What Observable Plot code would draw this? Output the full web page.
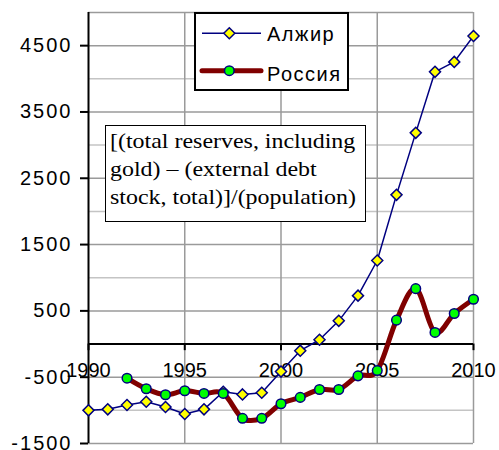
<!DOCTYPE html>
<html><head><meta charset="utf-8">
<script src="https://cdn.jsdelivr.net/npm/d3@7"></script>
<script src="https://cdn.jsdelivr.net/npm/@observablehq/plot@0.6"></script>
<style>
body{margin:0;background:#fff;}
#wrap{position:relative;width:499px;height:450px;overflow:hidden;}
#wrap svg.chart{position:absolute;left:0;top:0;}
[aria-label="y-axis tick label"] text{letter-spacing:2px;}
[aria-label="x-labels"] text{letter-spacing:2px;}
#legend{position:absolute;left:194px;top:12px;width:155px;height:79px;box-sizing:border-box;border:2px solid #000;background:#fff;font-family:"Liberation Sans",Arial,sans-serif;font-size:20px;}
#legend span{position:absolute;left:71px;line-height:24px;letter-spacing:1.5px;white-space:nowrap;}
#note{position:absolute;left:105px;top:125px;width:261px;height:97px;box-sizing:border-box;border:1.5px solid #000;background:#fff;}
#noteText{position:absolute;left:110px;top:127px;font-family:"Liberation Serif","Times New Roman",serif;font-size:21px;line-height:28px;transform:scaleX(1.14);transform-origin:0 0;white-space:nowrap;color:#000;}
</style></head><body>
<div id="wrap"></div>
<script>
const years = [1990,1991,1992,1993,1994,1995,1996,1997,1998,1999,2000,2001,2002,2003,2004,2005,2006,2007,2008,2009,2010];
const algeriaValues = [-1000,-985,-920,-870,-950,-1055,-985,-720,-760,-735,-415,-100,65,350,730,1260,2250,3185,4105,4255,4645];
const russiaYears = [1992,1993,1994,1995,1996,1997,1998,1999,2000,2001,2002,2003,2004,2005,2006,2007,2008,2009,2010];
const russiaValues = [-515,-675,-765,-705,-745,-745,-1120,-1120,-900,-805,-685,-685,-480,-400,360,835,175,460,675];
const yMajorTicks = [-1500,-500,500,1500,2500,3500,4500];
const yMinorTicks = [-1000,0,1000,2000,3000,4000];
const yTop = [5000];
const xTicks = [1990,1995,2000,2005,2010];
const seriesNames = ["Алжир","Россия"];
const noteLines = ["[(total reserves, including","gold) – (external debt","stock, total)]/(population)"];

const algeria = years.map((y,i)=>({year:y,value:algeriaValues[i]}));
const russia = russiaYears.map((y,i)=>({year:y,value:russiaValues[i]}));

const diamond = {draw(ctx,size){const h=Math.sqrt(size/2);ctx.moveTo(0,-h);ctx.lineTo(h,0);ctx.lineTo(0,h);ctx.lineTo(-h,0);ctx.closePath();}};

const chart = Plot.plot({
  width:499, height:450,
  marginLeft:88, marginRight:26, marginTop:12, marginBottom:7,
  x:{domain:[1990,2010], axis:null},
  y:{domain:[-1500,5000]},
  style:{fontFamily:"Liberation Sans, Arial, sans-serif", fontSize:"20px", background:"white", color:"black"},
  marks:[
    Plot.ruleY(yMinorTicks,{stroke:"#c4c4c4",strokeWidth:1.5}),
    Plot.ruleY(yMajorTicks.concat(yTop),{stroke:"#9a9a9a",strokeWidth:1.5}),
    Plot.ruleX(xTicks.slice(1),{stroke:"#9a9a9a",strokeWidth:1.5}),
    Plot.axisY({ticks:yMajorTicks,tickSize:8,tickPadding:8,tickFormat:d=>String(d),label:null,strokeWidth:2,fontSize:20}),
    Plot.ruleX([1990],{stroke:"black",strokeWidth:2}),
    Plot.ruleY([0],{stroke:"black",strokeWidth:2}),
    Plot.ruleX(xTicks,{x:d=>d,y1:0,y2:-100,stroke:"black",strokeWidth:2}),
    Plot.text(xTicks,{x:d=>d,y:0,dy:27,text:d=>String(d),fontSize:20,fill:"black",ariaLabel:"x-labels"}),
    Plot.line(algeria,{x:"year",y:"value",stroke:"#000080",strokeWidth:1.5}),
    Plot.dot(algeria,{x:"year",y:"value",symbol:diamond,r:4.4,fill:"#ffff00",stroke:"#000080",strokeWidth:1.5}),
    Plot.line(russia,{x:"year",y:"value",curve:"cardinal",stroke:"#800000",strokeWidth:5,strokeLinejoin:"round"}),
    Plot.dot(russia,{x:"year",y:"value",r:4.8,fill:"#00ff00",stroke:"#000080",strokeWidth:1.5})
  ]
});
chart.classList.add("chart");
const wrap = document.getElementById("wrap");
wrap.appendChild(chart);

const legend = document.createElement("div");
legend.id = "legend";
legend.innerHTML = `<svg width="151" height="75" style="position:absolute;left:0;top:0">
  <line x1="6" x2="65" y1="19.3" y2="19.3" stroke="#000080" stroke-width="1.5"/>
  <path d="M33.3,13.8L38.8,19.3L33.3,24.8L27.8,19.3Z" fill="#ffff00" stroke="#000080" stroke-width="1.5"/>
  <line x1="6" x2="65" y1="56.7" y2="56.7" stroke="#800000" stroke-width="5" stroke-linecap="round"/>
  <circle cx="33.3" cy="56.7" r="4.8" fill="#00ff00" stroke="#000080" stroke-width="1.5"/>
</svg>
<span style="top:8.4px">${seriesNames[0]}</span>
<span style="top:47.9px">${seriesNames[1]}</span>`;
wrap.appendChild(legend);

const note = document.createElement("div");
note.id = "note";
wrap.appendChild(note);
const noteText = document.createElement("div");
noteText.id = "noteText";
noteText.innerHTML = noteLines.map(l=>`<div>${l}</div>`).join("");
wrap.appendChild(noteText);
</script>
</body></html>
